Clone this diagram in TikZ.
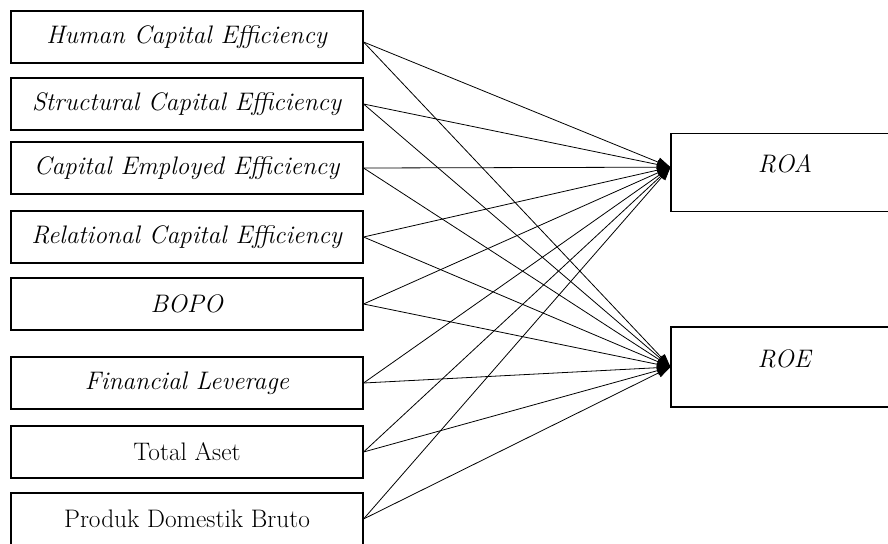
\documentclass[tikz,border=0pt]{standalone}
\usetikzlibrary{arrows.meta}

\tikzset{
	inbox/.style={draw, line width=0.8pt, minimum width=264pt, minimum height=39pt, inner sep=0pt, font=\fontsize{19}{22}\selectfont},
	outbox/.style={draw, line width=0.8pt, minimum width=171pt, minimum height=60pt, inner sep=0pt, text height=12pt, text depth=12pt, font=\fontsize{19}{22}\selectfont},
	link/.style={line width=0.6pt, -{Triangle[length=10pt,width=7pt]}}
}

\begin{document}
\begin{tikzpicture}[x=0.75pt,y=0.75pt,yscale=-1,xscale=1]
	\useasboundingbox (0,0) rectangle (888,543);

	% independent variables
	\node [inbox] (hce) at (187,37) {\textit{Human Capital Efficiency}};
	\node [inbox] (sce) at (187,104) {\textit{Structural Capital Efficiency}};
	\node [inbox] (cee) at (187,168) {\textit{Capital Employed Efficiency}};
	\node [inbox] (rce) at (187,237) {\textit{Relational Capital Efficiency}};
	\node [inbox] (bopo) at (187,304) {\textit{BOPO}};
	\node [inbox] (fl) at (187,383) {\textit{Financial Leverage}};
	\node [inbox] (ta) at (187,452) {Total Aset};
	\node [inbox] (pdb) at (187,519) {Produk Domestik Bruto};

	% dependent variables
	\node [outbox, minimum height=59pt] (roa) at (785,172.5) {\textit{ROA}};
	\node [outbox] (roe) at (785,367) {\textit{ROE}};

	% links
	\draw [link] ([yshift=3.75pt]hce.east) -- ([yshift=-4pt]roa.west);
	\draw [link] ([yshift=3.75pt]hce.east) -- (roe.west);
	\foreach \v in {sce,cee,rce,bopo,fl,ta,pdb} {
		\draw [link] (\v.east) -- ([yshift=-4pt]roa.west);
		\draw [link] (\v.east) -- (roe.west);
	}

\end{tikzpicture}
\end{document}
